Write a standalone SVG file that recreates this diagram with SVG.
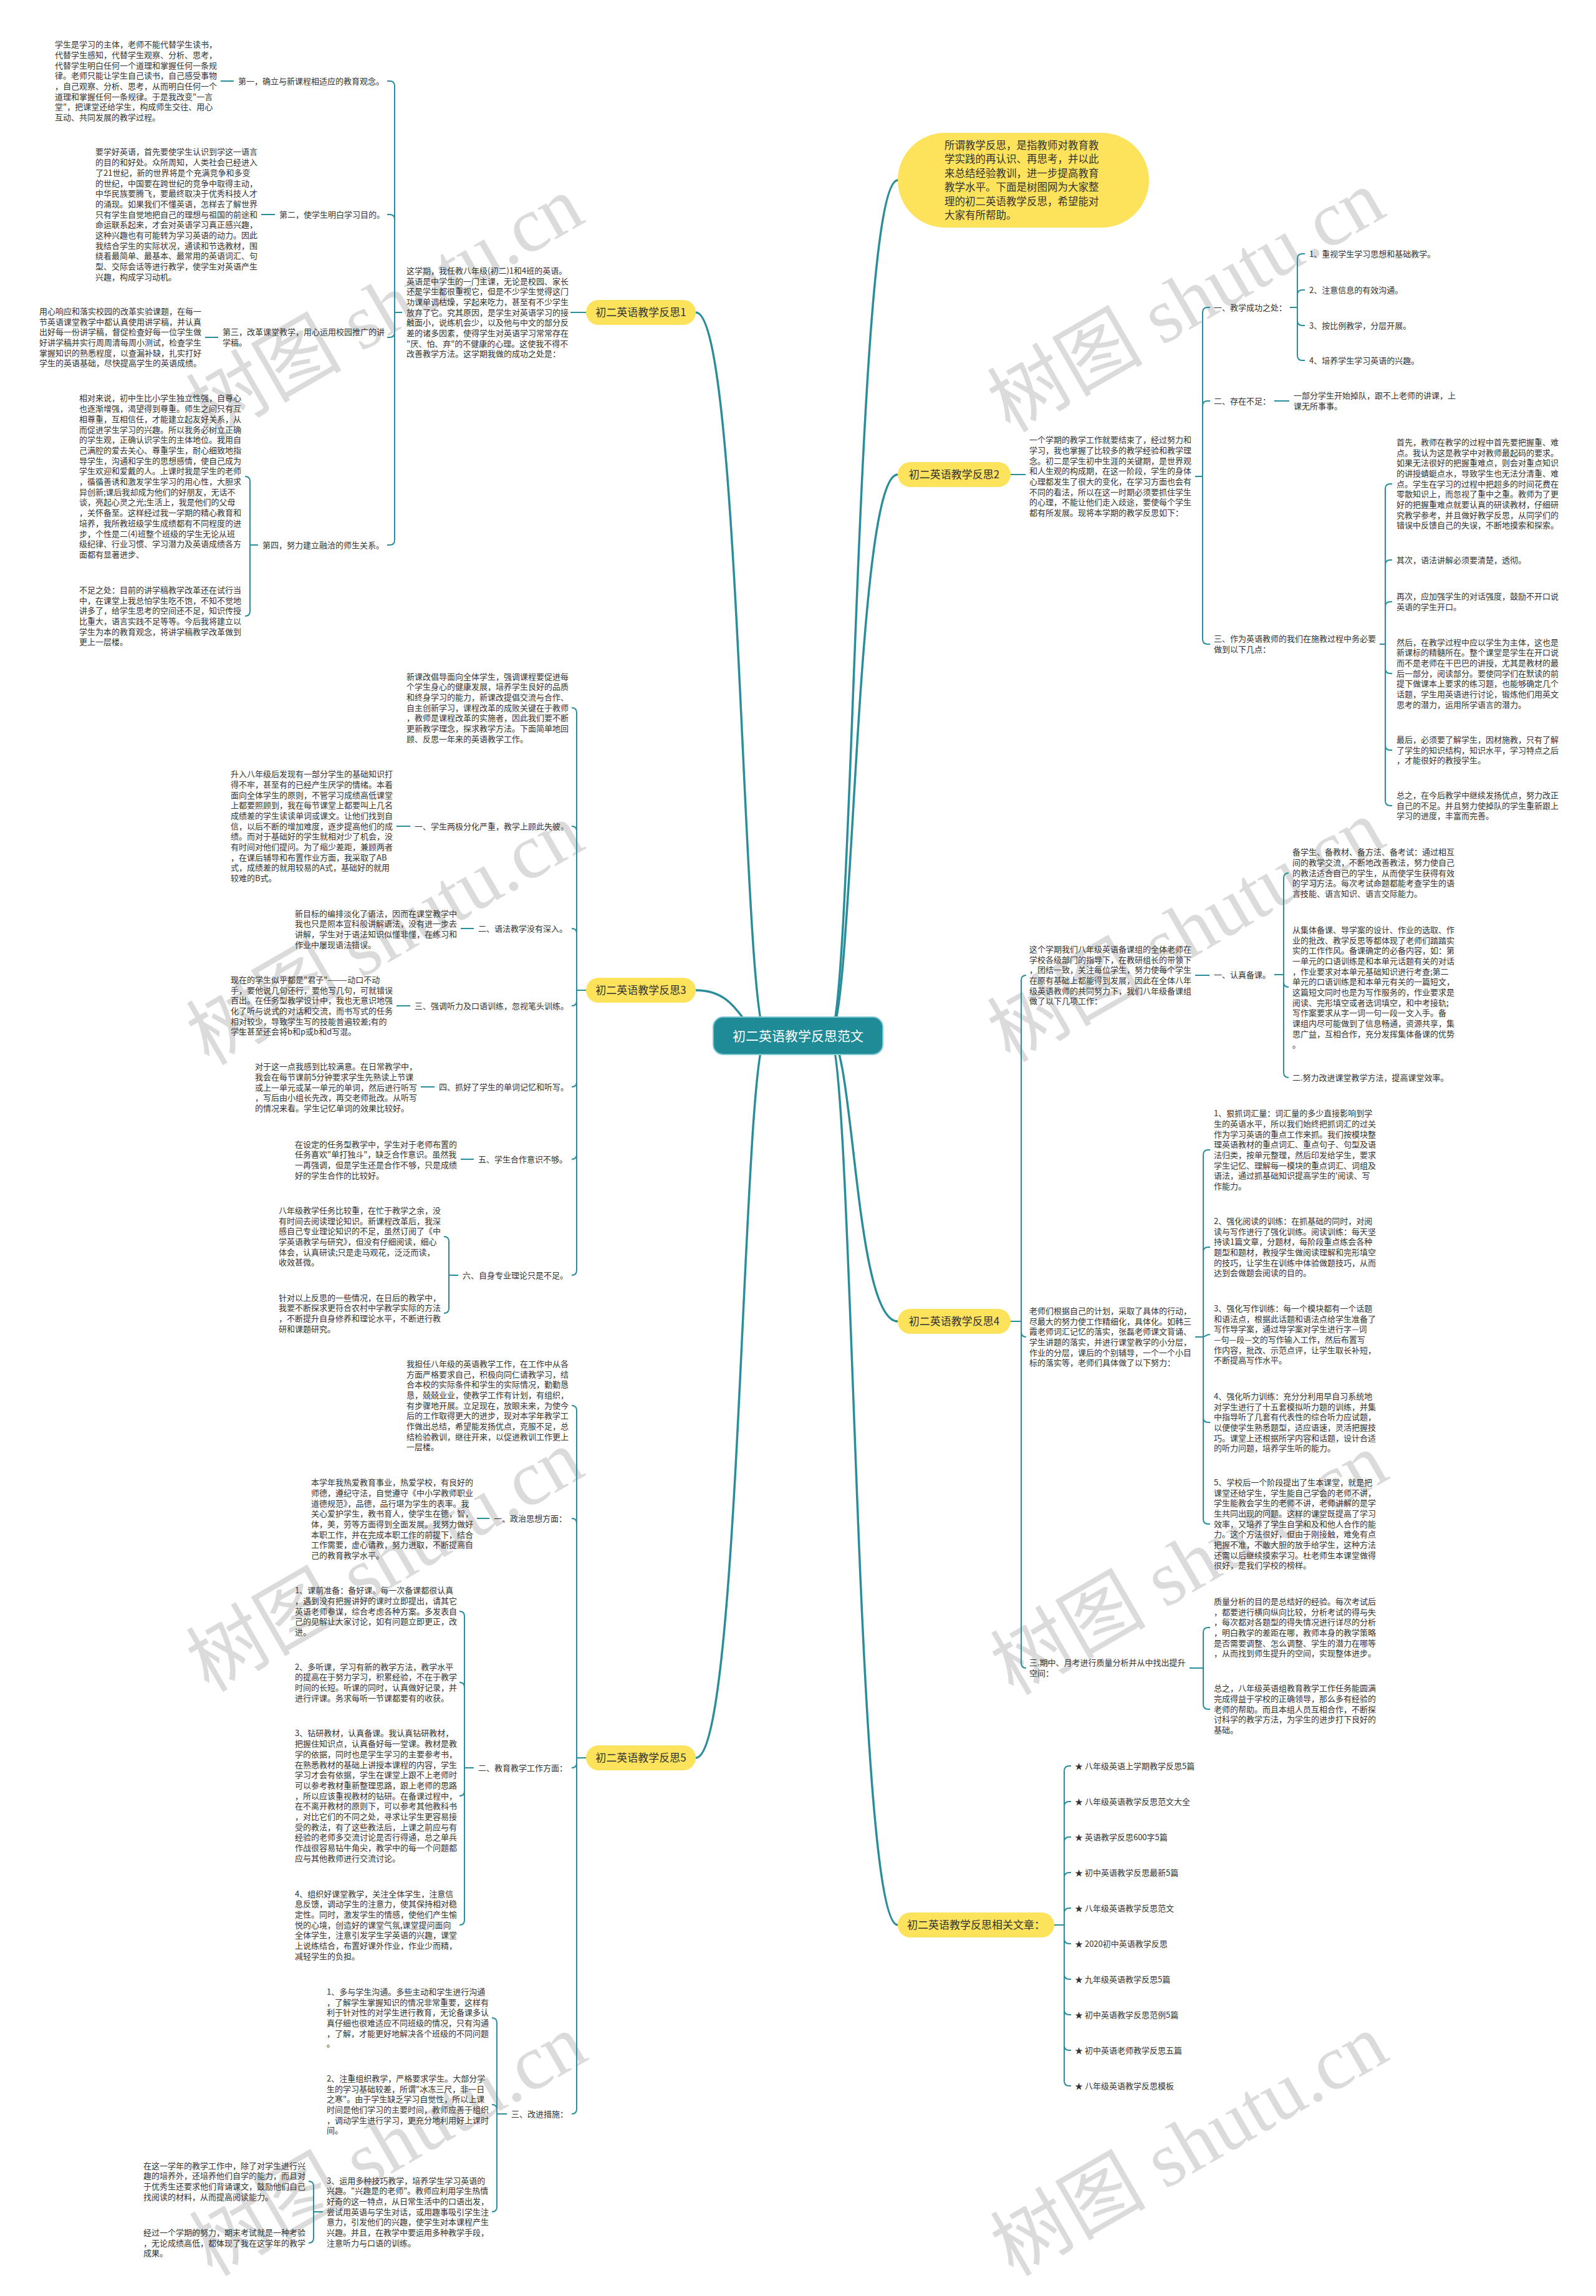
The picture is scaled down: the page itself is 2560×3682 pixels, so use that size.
<svg xmlns="http://www.w3.org/2000/svg" width="2560" height="3682" viewBox="0 0 2560 3682">
<style>
.t{font-family:"Noto Sans CJK SC","Noto Sans",sans-serif;font-size:13px;fill:#333}
.p{font-family:"Noto Sans CJK SC","Noto Sans",sans-serif;font-size:17px;fill:#333;text-anchor:middle}
.rt{font-family:"Noto Sans CJK SC","Noto Sans",sans-serif;font-size:21px;fill:#fff;text-anchor:middle}
.el{font-family:"Noto Sans CJK SC","Noto Sans",sans-serif;font-size:16.5px;fill:#333}
.c{fill:none;stroke:#2a8e9a;stroke-width:2}
.cm{fill:none;stroke:#2a8e9a;stroke-width:3.5}
.y{fill:#fde35b}
.wm{font-family:"Liberation Serif","Noto Sans CJK SC",serif;font-size:125px;fill:#bdbdbd;fill-opacity:0.55}
</style>
<rect width="2560" height="3682" fill="#fff"/>
<g id="watermarks">
<text class="wm" transform="translate(335 705) rotate(-30)">树图 shutu.cn</text>
<text class="wm" transform="translate(1620 695) rotate(-30)">树图 shutu.cn</text>
<text class="wm" transform="translate(335 1710) rotate(-30)">树图 shutu.cn</text>
<text class="wm" transform="translate(1620 1705) rotate(-30)">树图 shutu.cn</text>
<text class="wm" transform="translate(335 2715) rotate(-30)">树图 shutu.cn</text>
<text class="wm" transform="translate(1625 2720) rotate(-30)">树图 shutu.cn</text>
<text class="wm" transform="translate(340 3652) rotate(-30)">树图 shutu.cn</text>
<text class="wm" transform="translate(1625 3652) rotate(-30)">树图 shutu.cn</text>
</g>
<g id="connectors">
<path class="cm" d="M 1230 1661 C 1190 1661 1190 501 1116 501"/>
<path class="cm" d="M 1230 1661 C 1190 1661 1190 1588 1116 1588"/>
<path class="cm" d="M 1230 1661 C 1190 1661 1190 2819 1116 2819"/>
<path class="cm" d="M 1330 1661 C 1370 1661 1370 289 1440 289"/>
<path class="cm" d="M 1330 1661 C 1370 1661 1370 761 1440 761"/>
<path class="cm" d="M 1330 1661 C 1370 1661 1370 2119 1440 2119"/>
<path class="cm" d="M 1330 1661 C 1370 1661 1370 3087 1440 3087"/>
<!-- branch 1 -->
<path class="c" d="M 940 501 H 915"/>
<path class="c" d="M 645 501 H 633 V 138 Q 633 130 625 130 H 621"/>
<path class="c" d="M 645 501 H 633 V 352 Q 633 344 625 344 H 621"/>
<path class="c" d="M 645 501 H 633 V 533 Q 633 541 625 541 H 621"/>
<path class="c" d="M 645 501 H 633 V 866 Q 633 874 625 874 H 621"/>
<path class="c" d="M 375 130 H 354"/>
<path class="c" d="M 441 344 H 419"/>
<path class="c" d="M 350 541 H 329"/>
<path class="c" d="M 414 874 H 401 V 772 Q 401 764 393 764"/>
<path class="c" d="M 414 874 H 401 V 980 Q 401 988 393 988"/>
<!-- branch 3 -->
<path class="c" d="M 940 1588 H 925 V 1143 Q 925 1135 917 1135"/>
<path class="c" d="M 940 1588 H 925 V 1333 Q 925 1325 917 1325"/>
<path class="c" d="M 940 1588 H 925 V 1497 Q 925 1489 917 1489"/>
<path class="c" d="M 940 1588 H 925 V 1605 Q 925 1613 917 1613"/>
<path class="c" d="M 940 1588 H 925 V 1735 Q 925 1743 917 1743"/>
<path class="c" d="M 940 1588 H 925 V 1851 Q 925 1859 917 1859"/>
<path class="c" d="M 940 1588 H 925 V 2037 Q 925 2045 917 2045"/>
<path class="c" d="M 658 1325 H 636"/>
<path class="c" d="M 760 1489 H 739"/>
<path class="c" d="M 658 1613 H 636"/>
<path class="c" d="M 697 1743 H 675"/>
<path class="c" d="M 760 1859 H 739"/>
<path class="c" d="M 735 2045 H 720 V 1991 Q 720 1983 712 1983"/>
<path class="c" d="M 735 2045 H 720 V 2098 Q 720 2106 712 2106"/>
<!-- branch 5 -->
<path class="c" d="M 940 2819 H 925 V 2262 Q 925 2254 917 2254"/>
<path class="c" d="M 940 2819 H 925 V 2443 Q 925 2435 917 2435"/>
<path class="c" d="M 940 2819 H 925 V 2827 Q 925 2835 917 2835"/>
<path class="c" d="M 940 2819 H 925 V 3382 Q 925 3390 917 3390"/>
<path class="c" d="M 785 2435 H 765"/>
<path class="c" d="M 760 2835 H 745 V 2592 Q 745 2584 737 2584"/>
<path class="c" d="M 760 2835 H 745 V 2706 Q 745 2698 737 2698"/>
<path class="c" d="M 760 2835 H 745 V 2872 Q 745 2880 737 2880"/>
<path class="c" d="M 760 2835 H 745 V 3079 Q 745 3087 737 3087"/>
<path class="c" d="M 813 3390 H 797 V 3244 Q 797 3236 789 3236"/>
<path class="c" d="M 813 3390 H 797 V 3383 Q 797 3375 789 3375"/>
<path class="c" d="M 813 3390 H 797 V 3539 Q 797 3547 789 3547"/>
<path class="c" d="M 518 3547 H 503 V 3506 Q 503 3498 495 3498"/>
<path class="c" d="M 518 3547 H 503 V 3589 Q 503 3597 495 3597"/>
<!-- branch 2 -->
<path class="c" d="M 1621 761 H 1645"/>
<path class="c" d="M 1917 764 H 1929 V 501 Q 1929 493 1937 493 H 1941"/>
<path class="c" d="M 1917 764 H 1929 V 651 Q 1929 643 1937 643 H 1941"/>
<path class="c" d="M 1917 764 H 1929 V 1025 Q 1929 1033 1937 1033 H 1941"/>
<path class="c" d="M 2069 493 H 2081 V 415 Q 2081 407 2089 407 H 2093"/>
<path class="c" d="M 2069 493 H 2081 V 473 Q 2081 465 2089 465 H 2093"/>
<path class="c" d="M 2069 493 H 2081 V 514 Q 2081 522 2089 522 H 2093"/>
<path class="c" d="M 2069 493 H 2081 V 570 Q 2081 578 2089 578 H 2093"/>
<path class="c" d="M 2044 643 H 2068"/>
<path class="c" d="M 2213 1033 H 2222 V 784 Q 2222 776 2230 776 H 2233"/>
<path class="c" d="M 2213 1033 H 2222 V 906 Q 2222 898 2230 898 H 2233"/>
<path class="c" d="M 2213 1033 H 2222 V 973 Q 2222 965 2230 965 H 2233"/>
<path class="c" d="M 2213 1033 H 2222 V 1072 Q 2222 1080 2230 1080 H 2233"/>
<path class="c" d="M 2213 1033 H 2222 V 1195 Q 2222 1203 2230 1203 H 2233"/>
<path class="c" d="M 2213 1033 H 2222 V 1284 Q 2222 1292 2230 1292 H 2233"/>
<!-- branch 4 -->
<path class="c" d="M 1621 2119 H 1638 V 1572 Q 1638 1564 1646 1564"/>
<path class="c" d="M 1621 2119 H 1638 V 2136 Q 1638 2144 1646 2144"/>
<path class="c" d="M 1621 2119 H 1638 V 2667 Q 1638 2675 1646 2675"/>
<path class="c" d="M 1917 1564 H 1940"/>
<path class="c" d="M 2044 1563 H 2059 V 1408 Q 2059 1400 2067 1400"/>
<path class="c" d="M 2044 1563 H 2059 V 1575 Q 2059 1583 2067 1583"/>
<path class="c" d="M 2044 1563 H 2059 V 1720 Q 2059 1728 2067 1728"/>
<path class="c" d="M 1917 2144 H 1930 V 1852 Q 1930 1844 1938 1844 H 1941"/>
<path class="c" d="M 1917 2144 H 1930 V 2008 Q 1930 2000 1938 2000 H 1941"/>
<path class="c" d="M 1917 2144 H 1928 C 1934 2144 1934 2140 1941 2140"/>
<path class="c" d="M 1917 2144 H 1930 V 2273 Q 1930 2281 1938 2281 H 1941"/>
<path class="c" d="M 1917 2144 H 1930 V 2436 Q 1930 2444 1938 2444 H 1941"/>
<path class="c" d="M 1908 2675 H 1930 V 2618 Q 1930 2610 1938 2610 H 1941"/>
<path class="c" d="M 1908 2675 H 1930 V 2733 Q 1930 2741 1938 2741 H 1941"/>
<!-- related -->
<path class="c" d="M 1691 3087 H 1707 V 2840 Q 1707 2832 1715 2832 H 1718"/>
<path class="c" d="M 1691 3087 H 1707 V 2897 Q 1707 2889 1715 2889 H 1718"/>
<path class="c" d="M 1691 3087 H 1707 V 2954 Q 1707 2946 1715 2946 H 1718"/>
<path class="c" d="M 1691 3087 H 1707 V 3011 Q 1707 3003 1715 3003 H 1718"/>
<path class="c" d="M 1691 3087 H 1707 V 3068 Q 1707 3060 1715 3060 H 1718"/>
<path class="c" d="M 1691 3087 H 1707 V 3109 Q 1707 3117 1715 3117 H 1718"/>
<path class="c" d="M 1691 3087 H 1707 V 3166 Q 1707 3174 1715 3174 H 1718"/>
<path class="c" d="M 1691 3087 H 1707 V 3223 Q 1707 3231 1715 3231 H 1718"/>
<path class="c" d="M 1691 3087 H 1707 V 3280 Q 1707 3288 1715 3288 H 1718"/>
<path class="c" d="M 1691 3087 H 1707 V 3337 Q 1707 3345 1715 3345 H 1718"/>
</g>
<g id="root">
<rect x="1144" y="1631" width="272" height="60" rx="16" fill="#1f8b97" stroke="#7cc9d0" stroke-width="2"/>
<text class="rt" x="1280" y="1668.5">初二英语教学反思范文</text>
</g>
<g id="intro">
<rect class="y" x="1440" y="213" width="403" height="152" rx="76"/>
<text class="el" x="1515" y="238.5"><tspan x="1515">所谓教学反思，是指教师对教育教</tspan><tspan x="1515" dy="22.5">学实践的再认识、再思考，并以此</tspan><tspan x="1515" dy="22.5">来总结经验教训，进一步提高教育</tspan><tspan x="1515" dy="22.5">教学水平。下面是树图网为大家整</tspan><tspan x="1515" dy="22.5">理的初二英语教学反思，希望能对</tspan><tspan x="1515" dy="22.5">大家有所帮助。</tspan></text>
</g>
<!-- ===== Branch 1 ===== -->
<g id="b1">
<rect class="y" x="940" y="481" width="176" height="40" rx="20"/>
<text class="p" x="1028" y="507">初二英语教学反思1</text>
</g>
<g id="b1-intro">
<text class="t" x="652" y="438.8"><tspan x="652">这学期，我任教八年级(初二)1和4班的英语。</tspan><tspan x="652" dy="16.7">英语是中学生的一门主课，无论是校园、家长</tspan><tspan x="652" dy="16.7">还是学生都很重视它，但是不少学生觉得这门</tspan><tspan x="652" dy="16.7">功课单调枯燥，学起来吃力，甚至有不少学生</tspan><tspan x="652" dy="16.7">放弃了它。究其原因，是学生对英语学习的接</tspan><tspan x="652" dy="16.7">触面小，说练机会少，以及他与中文的部分反</tspan><tspan x="652" dy="16.7">差的诸多因素，使得学生对英语学习常常存在</tspan><tspan x="652" dy="16.7">"厌、怕、弃"的不健康的心理。这使我不得不</tspan><tspan x="652" dy="16.7">改善教学方法。这学期我做的成功之处是：</tspan></text>
</g>
<g id="b1-l1"><text class="t" x="382" y="134.6">第一，确立与新课程相适应的教育观念。</text></g>
<g id="b1-t1">
<text class="t" x="88" y="76.2"><tspan x="88">学生是学习的主体，老师不能代替学生读书，</tspan><tspan x="88" dy="16.7">代替学生感知，代替学生观察、分析、思考，</tspan><tspan x="88" dy="16.7">代替学生明白任何一个道理和掌握任何一条规</tspan><tspan x="88" dy="16.7">律。老师只能让学生自己读书，自己感受事物</tspan><tspan x="88" dy="16.7">，自己观察、分析、思考，从而明白任何一个</tspan><tspan x="88" dy="16.7">道理和掌握任何一条规律。于是我改变"一言</tspan><tspan x="88" dy="16.7">堂"，把课堂还给学生，构成师生交往、用心</tspan><tspan x="88" dy="16.7">互动、共同发展的教学过程。</tspan></text>
</g>
<g id="b1-l2"><text class="t" x="448" y="348.6">第二，使学生明白学习目的。</text></g>
<g id="b1-t2">
<text class="t" x="153" y="248.4"><tspan x="153">要学好英语，首先要使学生认识到学这一语言</tspan><tspan x="153" dy="16.7">的目的和好处。众所周知，人类社会已经进入</tspan><tspan x="153" dy="16.7">了21世纪，新的世界将是个充满竞争和多变</tspan><tspan x="153" dy="16.7">的世纪，中国要在跨世纪的竞争中取得主动，</tspan><tspan x="153" dy="16.7">中华民族要腾飞，要最终取决于优秀科技人才</tspan><tspan x="153" dy="16.7">的涌现。如果我们不懂英语，怎样去了解世界</tspan><tspan x="153" dy="16.7">只有学生自觉地把自己的理想与祖国的前途和</tspan><tspan x="153" dy="16.7">命运联系起来，才会对英语学习真正感兴趣，</tspan><tspan x="153" dy="16.7">这种兴趣也有可能转为学习英语的动力。因此</tspan><tspan x="153" dy="16.7">我结合学生的实际状况，通读和节选教材，围</tspan><tspan x="153" dy="16.7">绕着最简单、最基本、最常用的英语词汇、句</tspan><tspan x="153" dy="16.7">型、交际会话等进行教学，使学生对英语产生</tspan><tspan x="153" dy="16.7">兴趣，构成学习动机。</tspan></text>
</g>
<g id="b1-l3"><text class="t" x="357" y="537.3"><tspan x="357">第三，改革课堂教学，用心运用校园推广的讲</tspan><tspan x="357" dy="16.7">学稿。</tspan></text></g>
<g id="b1-t3">
<text class="t" x="63" y="503.9"><tspan x="63">用心响应和落实校园的改革实验课题，在每一</tspan><tspan x="63" dy="16.7">节英语课堂教学中都认真使用讲学稿，并认真</tspan><tspan x="63" dy="16.7">出好每一份讲学稿，督促检查好每一位学生做</tspan><tspan x="63" dy="16.7">好讲学稿并实行周周清每周小测试，检查学生</tspan><tspan x="63" dy="16.7">掌握知识的熟悉程度，以查漏补缺，扎实打好</tspan><tspan x="63" dy="16.7">学生的英语基础，尽快提高学生的英语成绩。</tspan></text>
</g>
<g id="b1-l4"><text class="t" x="421" y="878.6">第四，努力建立融洽的师生关系。</text></g>
<g id="b1-t4">
<text class="t" x="127" y="643.4"><tspan x="127">相对来说，初中生比小学生独立性强，自尊心</tspan><tspan x="127" dy="16.7">也逐渐增强，渴望得到尊重。师生之间只有互</tspan><tspan x="127" dy="16.7">相尊重，互相信任，才能建立起友好关系，从</tspan><tspan x="127" dy="16.7">而促进学生学习的兴趣。所以我务必树立正确</tspan><tspan x="127" dy="16.7">的学生观，正确认识学生的主体地位。我用自</tspan><tspan x="127" dy="16.7">己满腔的爱去关心、尊重学生，耐心细致地指</tspan><tspan x="127" dy="16.7">导学生，沟通和学生的思想感情，使自己成为</tspan><tspan x="127" dy="16.7">学生欢迎和爱戴的人。上课时我是学生的老师</tspan><tspan x="127" dy="16.7">，循循善诱和激发学生学习的用心性，大胆求</tspan><tspan x="127" dy="16.7">异创新;课后我却成为他们的好朋友，无话不</tspan><tspan x="127" dy="16.7">谈，亮起心灵之光;生活上，我是他们的父母</tspan><tspan x="127" dy="16.7">，关怀备至。这样经过我一学期的精心教育和</tspan><tspan x="127" dy="16.7">培养，我所教班级学生成绩都有不同程度的进</tspan><tspan x="127" dy="16.7">步，个性是二(4)班整个班级的学生无论从班</tspan><tspan x="127" dy="16.7">级纪律、行业习惯、学习潜力及英语成绩各方</tspan><tspan x="127" dy="16.7">面都有显著进步、</tspan></text>
</g>
<g id="b1-t5">
<text class="t" x="127" y="950.9"><tspan x="127">不足之处：目前的讲学稿教学改革还在试行当</tspan><tspan x="127" dy="16.7">中，在课堂上我总怕学生吃不饱，不知不觉地</tspan><tspan x="127" dy="16.7">讲多了，给学生思考的空间还不足，知识传授</tspan><tspan x="127" dy="16.7">比重大，语言实践不足等等。今后我将建立以</tspan><tspan x="127" dy="16.7">学生为本的教育观念，将讲学稿教学改革做到</tspan><tspan x="127" dy="16.7">更上一层楼。</tspan></text>
</g>
<!-- ===== Branch 3 ===== -->
<g id="b3">
<rect class="y" x="940" y="1568" width="176" height="40" rx="20"/>
<text class="p" x="1028" y="1594">初二英语教学反思3</text>
</g>
<g id="b3-intro">
<text class="t" x="652" y="1089.5"><tspan x="652">新课改倡导面向全体学生，强调课程要促进每</tspan><tspan x="652" dy="16.7">个学生身心的健康发展，培养学生良好的品质</tspan><tspan x="652" dy="16.7">和终身学习的能力，新课改提倡交流与合作、</tspan><tspan x="652" dy="16.7">自主创新学习，课程改革的成败关键在于教师</tspan><tspan x="652" dy="16.7">，教师是课程改革的实施者，因此我们要不断</tspan><tspan x="652" dy="16.7">更新教学理念，探求教学方法。下面简单地回</tspan><tspan x="652" dy="16.7">顾、反思一年来的英语教学工作。</tspan></text>
</g>
<g id="b3-l1"><text class="t" x="665" y="1329.6">一、学生两极分化严重，教学上顾此失彼。</text></g>
<g id="b3-t1">
<text class="t" x="370" y="1246.1"><tspan x="370">升入八年级后发现有一部分学生的基础知识打</tspan><tspan x="370" dy="16.7">得不牢，甚至有的已经产生厌学的情绪。本着</tspan><tspan x="370" dy="16.7">面向全体学生的原则，不管学习成绩高低课堂</tspan><tspan x="370" dy="16.7">上都要照顾到，我在每节课堂上都要叫上几名</tspan><tspan x="370" dy="16.7">成绩差的学生读读单词或课文。让他们找到自</tspan><tspan x="370" dy="16.7">信，以后不断的增加难度，逐步提高他们的成</tspan><tspan x="370" dy="16.7">绩。而对于基础好的学生就相对少了机会，没</tspan><tspan x="370" dy="16.7">有时间对他们提问。为了缩少差距，兼顾两者</tspan><tspan x="370" dy="16.7">，在课后辅导和布置作业方面，我采取了AB</tspan><tspan x="370" dy="16.7">式，成绩差的就用较易的A式，基础好的就用</tspan><tspan x="370" dy="16.7">较难的B式。</tspan></text>
</g>
<g id="b3-l2"><text class="t" x="767" y="1493.6">二、语法教学没有深入。</text></g>
<g id="b3-t2">
<text class="t" x="473" y="1469.6"><tspan x="473">新目标的编排淡化了语法，因而在课堂教学中</tspan><tspan x="473" dy="16.7">我也只是照本宣科般讲解语法，没有进一步去</tspan><tspan x="473" dy="16.7">讲解，学生对于语法知识似懂非懂，在练习和</tspan><tspan x="473" dy="16.7">作业中屡现语法错误。</tspan></text>
</g>
<g id="b3-l3"><text class="t" x="665" y="1617.6">三、强调听力及口语训练，忽视笔头训练。</text></g>
<g id="b3-t3">
<text class="t" x="370" y="1575.9"><tspan x="370">现在的学生似乎都是"君子"———动口不动</tspan><tspan x="370" dy="16.7">手，要他说几句还行，要他写几句，可就错误</tspan><tspan x="370" dy="16.7">百出。在任务型教学设计中，我也无意识地强</tspan><tspan x="370" dy="16.7">化了听与说式的对话和交流，而书写式的任务</tspan><tspan x="370" dy="16.7">相对较少，导致学生写的技能普遍较差;有的</tspan><tspan x="370" dy="16.7">学生甚至还会将b和p或b和d写混。</tspan></text>
</g>
<g id="b3-l4"><text class="t" x="704" y="1747.6">四、抓好了学生的单词记忆和听写。</text></g>
<g id="b3-t4">
<text class="t" x="409" y="1715.2"><tspan x="409">对于这一点我感到比较满意。在日常教学中，</tspan><tspan x="409" dy="16.7">我会在每节课前5分钟要求学生先熟读上节课</tspan><tspan x="409" dy="16.7">或上一单元或某一单元的单词，然后进行听写</tspan><tspan x="409" dy="16.7">，写后由小组长先改，再交老师批改。从听写</tspan><tspan x="409" dy="16.7">的情况来看。学生记忆单词的效果比较好。</tspan></text>
</g>
<g id="b3-l5"><text class="t" x="767" y="1863.6">五、学生合作意识不够。</text></g>
<g id="b3-t5">
<text class="t" x="473" y="1839.6"><tspan x="473">在设定的任务型教学中，学生对于老师布置的</tspan><tspan x="473" dy="16.7">任务喜欢"单打独斗"，缺乏合作意识。虽然我</tspan><tspan x="473" dy="16.7">一再强调，但是学生还是合作不够，只是成绩</tspan><tspan x="473" dy="16.7">好的学生合作的比较好。</tspan></text>
</g>
<g id="b3-l6"><text class="t" x="742" y="2049.6">六、自身专业理论只是不足。</text></g>
<g id="b3-t6">
<text class="t" x="447" y="1945.9"><tspan x="447">八年级教学任务比较重，在忙于教学之余，没</tspan><tspan x="447" dy="16.7">有时间去阅读理论知识。新课程改革后，我深</tspan><tspan x="447" dy="16.7">感自己专业理论知识的不足，虽然订阅了《中</tspan><tspan x="447" dy="16.7">学英语教学与研究》，但没有仔细阅读，细心</tspan><tspan x="447" dy="16.7">体会，认真研读;只是走马观花，泛泛而读，</tspan><tspan x="447" dy="16.7">收效甚微。</tspan></text>
</g>
<g id="b3-t7">
<text class="t" x="447" y="2085.6"><tspan x="447">针对以上反思的一些情况，在日后的教学中，</tspan><tspan x="447" dy="16.7">我要不断探求更符合农村中学教学实际的方法</tspan><tspan x="447" dy="16.7">，不断提升自身修养和理论水平，不断进行教</tspan><tspan x="447" dy="16.7">研和课题研究。</tspan></text>
</g>
<!-- ===== Branch 5 ===== -->
<g id="b5">
<rect class="y" x="940" y="2799" width="176" height="40" rx="20"/>
<text class="p" x="1028" y="2825">初二英语教学反思5</text>
</g>
<g id="b5-intro">
<text class="t" x="652" y="2191.8"><tspan x="652">我担任八年级的英语教学工作，在工作中从各</tspan><tspan x="652" dy="16.7">方面严格要求自己，积极向同仁请教学习，结</tspan><tspan x="652" dy="16.7">合本校的实际条件和学生的实际情况，勤勤恳</tspan><tspan x="652" dy="16.7">恳，兢兢业业，使教学工作有计划，有组织，</tspan><tspan x="652" dy="16.7">有步骤地开展。立足现在，放眼未来，为使今</tspan><tspan x="652" dy="16.7">后的工作取得更大的进步，现对本学年教学工</tspan><tspan x="652" dy="16.7">作做出总结，希望能发扬优点，克服不足，总</tspan><tspan x="652" dy="16.7">结检验教训，继往开来，以促进教训工作更上</tspan><tspan x="652" dy="16.7">一层楼。</tspan></text>
</g>
<g id="b5-l1"><text class="t" x="792" y="2439.6">一、政治思想方面：</text></g>
<g id="b5-t1">
<text class="t" x="499" y="2382.2"><tspan x="499">本学年我热爱教育事业，热爱学校，有良好的</tspan><tspan x="499" dy="16.7">师德，遵纪守法，自觉遵守《中小学教师职业</tspan><tspan x="499" dy="16.7">道德规范》，品德，品行堪为学生的表率。我</tspan><tspan x="499" dy="16.7">关心爱护学生，教书育人，使学生在德，智，</tspan><tspan x="499" dy="16.7">体，美，劳等方面得到全面发展。我努力做好</tspan><tspan x="499" dy="16.7">本职工作，并在完成本职工作的前提下，结合</tspan><tspan x="499" dy="16.7">工作需要，虚心请教，努力进取，不断提高自</tspan><tspan x="499" dy="16.7">己的教育教学水平。</tspan></text>
</g>
<g id="b5-l2"><text class="t" x="767" y="2839.6">二、教育教学工作方面：</text></g>
<g id="b5-t2">
<text class="t" x="473" y="2555.2"><tspan x="473">1、课前准备：备好课。每一次备课都很认真</tspan><tspan x="473" dy="16.7">，遇到没有把握讲好的课时立即提出，请其它</tspan><tspan x="473" dy="16.7">英语老师参谋，综合考虑各种方案。多发表自</tspan><tspan x="473" dy="16.7">己的见解让大家讨论，如有问题立即更正，改</tspan><tspan x="473" dy="16.7">进。</tspan></text>
</g>
<g id="b5-t3">
<text class="t" x="473" y="2677.6"><tspan x="473">2、多听课，学习有新的教学方法，教学水平</tspan><tspan x="473" dy="16.7">的提高在于努力学习，积累经验，不在于教学</tspan><tspan x="473" dy="16.7">时间的长短。听课的同时，认真做好记录，并</tspan><tspan x="473" dy="16.7">进行评课。务求每听一节课都要有的收获。</tspan></text>
</g>
<g id="b5-t4">
<text class="t" x="473" y="2784.4"><tspan x="473">3、钻研教材，认真备课。我认真钻研教材，</tspan><tspan x="473" dy="16.7">把握住知识点，认真备好每一堂课。教材是教</tspan><tspan x="473" dy="16.7">学的依据，同时也是学生学习的主要参考书，</tspan><tspan x="473" dy="16.7">在熟悉教材的基础上讲授本课程的内容，学生</tspan><tspan x="473" dy="16.7">学习才会有依据，学生在课堂上跟不上老师时</tspan><tspan x="473" dy="16.7">可以参考教材重新整理思路，跟上老师的思路</tspan><tspan x="473" dy="16.7">，所以应该重视教材的钻研。在备课过程中，</tspan><tspan x="473" dy="16.7">在不离开教材的原则下，可以参考其他教科书</tspan><tspan x="473" dy="16.7">，对比它们的不同之处，寻求让学生更容易接</tspan><tspan x="473" dy="16.7">受的教法，有了这些教法后，上课之前应与有</tspan><tspan x="473" dy="16.7">经验的老师多交流讨论是否行得通，总之单兵</tspan><tspan x="473" dy="16.7">作战很容易钻牛角尖，教学中的每一个问题都</tspan><tspan x="473" dy="16.7">应与其他教师进行交流讨论。</tspan></text>
</g>
<g id="b5-t5">
<text class="t" x="473" y="3041.5"><tspan x="473">4、组织好课堂教学，关注全体学生，注意信</tspan><tspan x="473" dy="16.7">息反馈，调动学生的注意力，使其保持相对稳</tspan><tspan x="473" dy="16.7">定性。同时，激发学生的情感，使他们产生愉</tspan><tspan x="473" dy="16.7">悦的心境，创造好的课堂气氛,课堂提问面向</tspan><tspan x="473" dy="16.7">全体学生，注意引发学生学英语的兴趣，课堂</tspan><tspan x="473" dy="16.7">上说练结合，布置好课外作业，作业少而精，</tspan><tspan x="473" dy="16.7">减轻学生的负担。</tspan></text>
</g>
<g id="b5-l3"><text class="t" x="820" y="3394.6">三、改进措施：</text></g>
<g id="b5-t6">
<text class="t" x="524" y="3198.9"><tspan x="524">1、多与学生沟通。多些主动和学生进行沟通</tspan><tspan x="524" dy="16.7">，了解学生掌握知识的情况非常重要，这样有</tspan><tspan x="524" dy="16.7">利于针对性的对学生进行教育，无论备课多认</tspan><tspan x="524" dy="16.7">真仔细也很难适应不同班级的情况，只有沟通</tspan><tspan x="524" dy="16.7">，了解，才能更好地解决各个班级的不同问题</tspan><tspan x="524" dy="16.7">。</tspan></text>
</g>
<g id="b5-t7">
<text class="t" x="524" y="3337.9"><tspan x="524">2、注重组织教学，严格要求学生。大部分学</tspan><tspan x="524" dy="16.7">生的学习基础较差，所谓"冰冻三尺，非一日</tspan><tspan x="524" dy="16.7">之寒"。由于学生缺乏学习自觉性，所以上课</tspan><tspan x="524" dy="16.7">时间是他们学习的主要时间，教师应善于组织</tspan><tspan x="524" dy="16.7">，调动学生进行学习，更充分地利用好上课时</tspan><tspan x="524" dy="16.7">间。</tspan></text>
</g>
<g id="b5-t8">
<text class="t" x="524" y="3501.5"><tspan x="524">3、运用多种技巧教学，培养学生学习英语的</tspan><tspan x="524" dy="16.7">兴趣。"兴趣是的老师"。教师应利用学生热情</tspan><tspan x="524" dy="16.7">好奇的这一特点，从日常生活中的口语出发，</tspan><tspan x="524" dy="16.7">尝试用英语与学生对话，或用趣事吸引学生注</tspan><tspan x="524" dy="16.7">意力，引发他们的兴趣，使学生对本课程产生</tspan><tspan x="524" dy="16.7">兴趣。并且，在教学中要运用多种教学手段，</tspan><tspan x="524" dy="16.7">注意听力与口语的训练。</tspan></text>
</g>
<g id="b5-t9">
<text class="t" x="230" y="3477.6"><tspan x="230">在这一学年的教学工作中，除了对学生进行兴</tspan><tspan x="230" dy="16.7">趣的培养外，还培养他们自学的能力，而且对</tspan><tspan x="230" dy="16.7">于优秀生还要求他们背诵课文，鼓励他们自己</tspan><tspan x="230" dy="16.7">找阅读的材料，从而提高阅读能力。</tspan></text>
</g>
<g id="b5-t10">
<text class="t" x="230" y="3584.9"><tspan x="230">经过一个学期的努力，期末考试就是一种考验</tspan><tspan x="230" dy="16.7">，无论成绩高低，都体现了我在这学年的教学</tspan><tspan x="230" dy="16.7">成果。</tspan></text>
</g>
<!-- ===== Branch 2 ===== -->
<g id="b2">
<rect class="y" x="1440" y="741" width="181" height="40" rx="20"/>
<text class="p" x="1530.5" y="767">初二英语教学反思2</text>
</g>
<g id="b2-intro">
<text class="t" x="1651" y="710.2"><tspan x="1651">一个学期的教学工作就要结束了，经过努力和</tspan><tspan x="1651" dy="16.7">学习，我也掌握了比较多的教学经验和教学理</tspan><tspan x="1651" dy="16.7">念。初二是学生初中生涯的关键期，是世界观</tspan><tspan x="1651" dy="16.7">和人生观的构成期，在这一阶段，学生的身体</tspan><tspan x="1651" dy="16.7">心理都发生了很大的变化，在学习方面也会有</tspan><tspan x="1651" dy="16.7">不同的看法，所以在这一时期必须要抓住学生</tspan><tspan x="1651" dy="16.7">的心理，不能让他们走入歧途，要使每个学生</tspan><tspan x="1651" dy="16.7">都有所发展。现将本学期的教学反思如下：</tspan></text>
</g>
<g id="b2-l1"><text class="t" x="1947" y="497.6">一、教学成功之处：</text></g>
<g id="b2-i1"><text class="t" x="2100" y="411.6">1、重视学生学习思想和基础教学。</text></g>
<g id="b2-i2"><text class="t" x="2100" y="469.6">2、注意信息的有效沟通。</text></g>
<g id="b2-i3"><text class="t" x="2100" y="526.6">3、按比例教学，分层开展。</text></g>
<g id="b2-i4"><text class="t" x="2100" y="582.6">4、培养学生学习英语的兴趣。</text></g>
<g id="b2-l2"><text class="t" x="1947" y="647.6">二、存在不足：</text></g>
<g id="b2-t1"><text class="t" x="2075" y="639.3"><tspan x="2075">一部分学生开始掉队，跟不上老师的讲课，上</tspan><tspan x="2075" dy="16.7">课无所事事。</tspan></text></g>
<g id="b2-l3"><text class="t" x="1947" y="1029.3"><tspan x="1947">三、作为英语教师的我们在施教过程中务必要</tspan><tspan x="1947" dy="16.7">做到以下几点：</tspan></text></g>
<g id="b2-t2">
<text class="t" x="2240" y="713.8"><tspan x="2240">首先，教师在教学的过程中首先要把握重、难</tspan><tspan x="2240" dy="16.7">点。我认为这是教学中对教师最起码的要求。</tspan><tspan x="2240" dy="16.7">如果无法很好的把握重难点，则会对重点知识</tspan><tspan x="2240" dy="16.7">的讲授蜻蜓点水，导致学生也无法分清重、难</tspan><tspan x="2240" dy="16.7">点。学生在学习的过程中把超多的时间花费在</tspan><tspan x="2240" dy="16.7">零散知识上，而忽视了重中之重。教师为了更</tspan><tspan x="2240" dy="16.7">好的把握重难点就要认真的研读教材，仔细研</tspan><tspan x="2240" dy="16.7">究教学参考，并且做好教学反思，从同学们的</tspan><tspan x="2240" dy="16.7">错误中反馈自己的失误，不断地摸索和探索。</tspan></text>
</g>
<g id="b2-t3"><text class="t" x="2240" y="902.6">其次，语法讲解必须要清楚，透彻。</text></g>
<g id="b2-t4"><text class="t" x="2240" y="961.3"><tspan x="2240">再次，应加强学生的对话强度，鼓励不开口说</tspan><tspan x="2240" dy="16.7">英语的学生开口。</tspan></text></g>
<g id="b2-t5">
<text class="t" x="2240" y="1034.5"><tspan x="2240">然后，在教学过程中应以学生为主体，这也是</tspan><tspan x="2240" dy="16.7">新课标的精髓所在。整个课堂是学生在开口说</tspan><tspan x="2240" dy="16.7">而不是老师在干巴巴的讲授，尤其是教材的最</tspan><tspan x="2240" dy="16.7">后一部分，阅读部分。要使同学们在默读的前</tspan><tspan x="2240" dy="16.7">提下做课本上要求的练习题，也能够确定几个</tspan><tspan x="2240" dy="16.7">话题，学生用英语进行讨论，锻炼他们用英文</tspan><tspan x="2240" dy="16.7">思考的潜力，运用所学语言的潜力。</tspan></text>
</g>
<g id="b2-t6"><text class="t" x="2240" y="1190.9"><tspan x="2240">最后，必须要了解学生，因材施教，只有了解</tspan><tspan x="2240" dy="16.7">了学生的知识结构，知识水平，学习特点之后</tspan><tspan x="2240" dy="16.7">，才能很好的教授学生。</tspan></text></g>
<g id="b2-t7"><text class="t" x="2240" y="1279.9"><tspan x="2240">总之，在今后教学中继续发扬优点，努力改正</tspan><tspan x="2240" dy="16.7">自己的不足。并且努力使掉队的学生重新跟上</tspan><tspan x="2240" dy="16.7">学习的进度，丰富而完善。</tspan></text></g>
<!-- ===== Branch 4 ===== -->
<g id="b4">
<rect class="y" x="1440" y="2099" width="181" height="40" rx="20"/>
<text class="p" x="1530.5" y="2125">初二英语教学反思4</text>
</g>
<g id="b4-t1">
<text class="t" x="1651" y="1526.9"><tspan x="1651">这个学期我们八年级英语备课组的全体老师在</tspan><tspan x="1651" dy="16.7">学校各级部门的指导下，在教研组长的带领下</tspan><tspan x="1651" dy="16.7">，团结一致，关注每位学生，努力使每个学生</tspan><tspan x="1651" dy="16.7">在原有基础上都能得到发展，因此在全体八年</tspan><tspan x="1651" dy="16.7">级英语教师的共同努力下，我们八年级备课组</tspan><tspan x="1651" dy="16.7">做了以下几项工作：</tspan></text>
</g>
<g id="b4-l1"><text class="t" x="1947" y="1567.6">一、认真备课。</text></g>
<g id="b4-t2">
<text class="t" x="2073" y="1371.2"><tspan x="2073">备学生、备教材、备方法、备考试：通过相互</tspan><tspan x="2073" dy="16.7">间的教学交流，不断地改善教法，努力使自己</tspan><tspan x="2073" dy="16.7">的教法适合自己的学生，从而使学生获得有效</tspan><tspan x="2073" dy="16.7">的学习方法。每次考试命题都能考查学生的语</tspan><tspan x="2073" dy="16.7">言技能、语言知识、语言交际能力。</tspan></text>
</g>
<g id="b4-t3">
<text class="t" x="2073" y="1495.8"><tspan x="2073">从集体备课、导学案的设计、作业的选取、作</tspan><tspan x="2073" dy="16.7">业的批改、教学反思等都体现了老师们踏踏实</tspan><tspan x="2073" dy="16.7">实的工作作风。备课确定的必备内容，如：第</tspan><tspan x="2073" dy="16.7">一单元的口语训练是和本单元话题有关的对话</tspan><tspan x="2073" dy="16.7">，作业要求对本单元基础知识进行考查;第二</tspan><tspan x="2073" dy="16.7">单元的口语训练是和本单元有关的一篇短文，</tspan><tspan x="2073" dy="16.7">这篇短文同时也是为写作服务的，作业要求是</tspan><tspan x="2073" dy="16.7">阅读、完形填空或者选词填空，和中考接轨;</tspan><tspan x="2073" dy="16.7">写作案要求从字一词一句一段一文入手。备</tspan><tspan x="2073" dy="16.7">课组内尽可能做到了信息畅通，资源共享，集</tspan><tspan x="2073" dy="16.7">思广益，互相合作，充分发挥集体备课的优势</tspan><tspan x="2073" dy="16.7">。</tspan></text>
</g>
<g id="b4-t4"><text class="t" x="2073" y="1732.6">二.努力改进课堂教学方法，提高课堂效率。</text></g>
<g id="b4-t5">
<text class="t" x="1651" y="2106.9"><tspan x="1651">老师们根据自己的计划，采取了具体的行动，</tspan><tspan x="1651" dy="16.7">尽最大的努力使工作精细化，具体化。如韩三</tspan><tspan x="1651" dy="16.7">霞老师词汇记忆的落实，张磊老师课文背诵、</tspan><tspan x="1651" dy="16.7">学生讲题的落实，并进行课堂教学的小分层，</tspan><tspan x="1651" dy="16.7">作业的分层，课后的个别辅导，一个一个小目</tspan><tspan x="1651" dy="16.7">标的落实等，老师们具体做了以下努力：</tspan></text>
</g>
<g id="b4-t6">
<text class="t" x="1947" y="1790.2"><tspan x="1947">1、狠抓词汇量：词汇量的多少直接影响到学</tspan><tspan x="1947" dy="16.7">生的英语水平，所以我们始终把抓词汇的过关</tspan><tspan x="1947" dy="16.7">作为学习英语的重点工作来抓。我们按模块整</tspan><tspan x="1947" dy="16.7">理英语教材的重点词汇、重点句子、句型及语</tspan><tspan x="1947" dy="16.7">法归类，按单元整理，然后印发给学生，要求</tspan><tspan x="1947" dy="16.7">学生记忆、理解每一模块的重点词汇、词组及</tspan><tspan x="1947" dy="16.7">语法，通过抓基础知识提高学生的'阅读、写</tspan><tspan x="1947" dy="16.7">作能力。</tspan></text>
</g>
<g id="b4-t7">
<text class="t" x="1947" y="1962.9"><tspan x="1947">2、强化阅读的训练：在抓基础的同时，对阅</tspan><tspan x="1947" dy="16.7">读与写作进行了强化训练。阅读训练：每天坚</tspan><tspan x="1947" dy="16.7">持读1篇文章，分题材，每阶段重点练会各种</tspan><tspan x="1947" dy="16.7">题型和题材，教授学生做阅读理解和完形填空</tspan><tspan x="1947" dy="16.7">的技巧，让学生在训练中体验做题技巧，从而</tspan><tspan x="1947" dy="16.7">达到会做题会阅读的目的。</tspan></text>
</g>
<g id="b4-t8">
<text class="t" x="1947" y="2102.9"><tspan x="1947">3、强化写作训练：每一个模块都有一个话题</tspan><tspan x="1947" dy="16.7">和语法点，根据此话题和语法点给学生准备了</tspan><tspan x="1947" dy="16.7">写作导学案，通过导学案对学生进行字—词</tspan><tspan x="1947" dy="16.7">—句—段—文的写作输入工作，然后布置写</tspan><tspan x="1947" dy="16.7">作内容，批改、示范点评，让学生取长补短，</tspan><tspan x="1947" dy="16.7">不断提高写作水平。</tspan></text>
</g>
<g id="b4-t9">
<text class="t" x="1947" y="2243.9"><tspan x="1947">4、强化听力训练：充分分利用早自习系统地</tspan><tspan x="1947" dy="16.7">对学生进行了十五套模拟听力题的训练，并集</tspan><tspan x="1947" dy="16.7">中指导听了几套有代表性的综合听力应试题，</tspan><tspan x="1947" dy="16.7">以便使学生熟悉题型，适应语速，灵活把握技</tspan><tspan x="1947" dy="16.7">巧。课堂上还根据所学内容和话题，设计合适</tspan><tspan x="1947" dy="16.7">的听力问题，培养学生听的能力。</tspan></text>
</g>
<g id="b4-t10">
<text class="t" x="1947" y="2381.8"><tspan x="1947">5、学校后一个阶段提出了生本课堂，就是把</tspan><tspan x="1947" dy="16.7">课堂还给学生，学生能自己学会的老师不讲，</tspan><tspan x="1947" dy="16.7">学生能教会学生的老师不讲，老师讲解的是学</tspan><tspan x="1947" dy="16.7">生共同出现的问题。这样的课堂既提高了学习</tspan><tspan x="1947" dy="16.7">效率，又培养了学生自学和及和他人合作的能</tspan><tspan x="1947" dy="16.7">力。这个方法很好，但由于刚接触，难免有点</tspan><tspan x="1947" dy="16.7">把握不准，不敢大胆的放手给学生，这种方法</tspan><tspan x="1947" dy="16.7">还需以后继续摸索学习。杜老师生本课堂做得</tspan><tspan x="1947" dy="16.7">很好，是我们学校的榜样。</tspan></text>
</g>
<g id="b4-l2"><text class="t" x="1651" y="2671.3"><tspan x="1651">三.期中、月考进行质量分析并从中找出提升</tspan><tspan x="1651" dy="16.7">空间：</tspan></text></g>
<g id="b4-t11">
<text class="t" x="1947" y="2572.9"><tspan x="1947">质量分析的目的是总结好的经验。每次考试后</tspan><tspan x="1947" dy="16.7">，都要进行横向纵向比较，分析考试的得与失</tspan><tspan x="1947" dy="16.7">，每次都对各题型的得失情况进行详尽的分析</tspan><tspan x="1947" dy="16.7">，明白教学的差距在哪，教师本身的教学策略</tspan><tspan x="1947" dy="16.7">是否需要调整、怎么调整、学生的潜力在哪等</tspan><tspan x="1947" dy="16.7">，从而找到师生提升的空间，实现整体进步。</tspan></text>
</g>
<g id="b4-t12">
<text class="t" x="1947" y="2712.2"><tspan x="1947">总之，八年级英语组教育教学工作任务能圆满</tspan><tspan x="1947" dy="16.7">完成得益于学校的正确领导，那么多有经验的</tspan><tspan x="1947" dy="16.7">老师的帮助。而且本组人员互相合作，不断探</tspan><tspan x="1947" dy="16.7">讨科学的教学方法，为学生的进步打下良好的</tspan><tspan x="1947" dy="16.7">基础。</tspan></text>
</g>
<!-- ===== Related ===== -->
<g id="b6">
<rect class="y" x="1440" y="3067" width="251" height="40" rx="20"/>
<text class="p" x="1565.5" y="3093">初二英语教学反思相关文章：</text>
</g>
<g id="r1"><text class="t" x="1724" y="2836.6">★ 八年级英语上学期教学反思5篇</text></g>
<g id="r2"><text class="t" x="1724" y="2893.6">★ 八年级英语教学反思范文大全</text></g>
<g id="r3"><text class="t" x="1724" y="2950.6">★ 英语教学反思600字5篇</text></g>
<g id="r4"><text class="t" x="1724" y="3007.6">★ 初中英语教学反思最新5篇</text></g>
<g id="r5"><text class="t" x="1724" y="3064.6">★ 八年级英语教学反思范文</text></g>
<g id="r6"><text class="t" x="1724" y="3121.6">★ 2020初中英语教学反思</text></g>
<g id="r7"><text class="t" x="1724" y="3178.6">★ 九年级英语教学反思5篇</text></g>
<g id="r8"><text class="t" x="1724" y="3235.6">★ 初中英语教学反思范例5篇</text></g>
<g id="r9"><text class="t" x="1724" y="3292.6">★ 初中英语老师教学反思五篇</text></g>
<g id="r10"><text class="t" x="1724" y="3349.6">★ 八年级英语教学反思模板</text></g>
</svg>
